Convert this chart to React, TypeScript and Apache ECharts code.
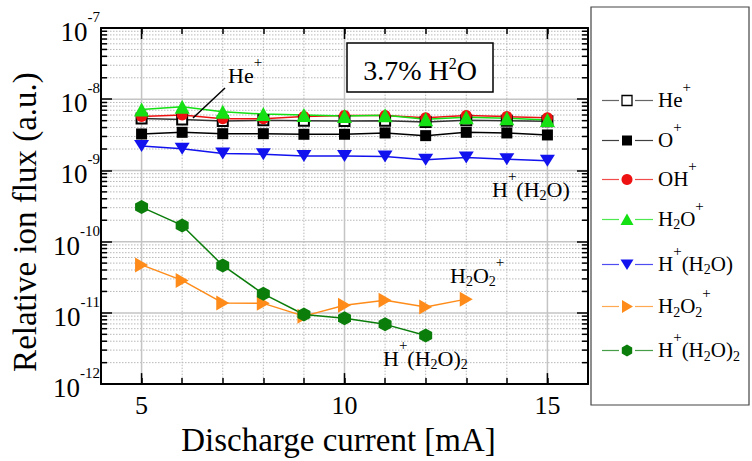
import React, { useEffect, useRef } from 'react';
import * as echarts from 'echarts';

// Discharge current (mA) for the full series
const currents = [5, 6, 7, 8, 9, 10, 11, 12, 13, 14, 15];
const heIon = [5.35e-9, 5.2e-9, 4.95e-9, 5.05e-9, 5.0e-9, 4.95e-9, 5.0e-9, 4.8e-9, 5.05e-9, 5.0e-9, 4.9e-9];
const oIon = [3.25e-9, 3.43e-9, 3.28e-9, 3.28e-9, 3.22e-9, 3.22e-9, 3.36e-9, 3.08e-9, 3.43e-9, 3.36e-9, 3.15e-9];
const ohIon = [5.7e-9, 6.0e-9, 5.3e-9, 5.3e-9, 5.7e-9, 5.9e-9, 5.9e-9, 5.5e-9, 5.9e-9, 5.7e-9, 5.5e-9];
const h2oIon = [7.19e-9, 7.83e-9, 6.68e-9, 6.19e-9, 6.0e-9, 5.81e-9, 5.94e-9, 5.24e-9, 5.58e-9, 5.41e-9, 5.12e-9];
const hH2oIon = [2.2e-9, 2.02e-9, 1.73e-9, 1.69e-9, 1.6e-9, 1.6e-9, 1.57e-9, 1.41e-9, 1.52e-9, 1.44e-9, 1.37e-9];
// Shorter series
const h2o2Currents = [5, 6, 7, 8, 9, 10, 11, 12, 13];
const h2o2Ion = [4.72e-11, 2.86e-11, 1.38e-11, 1.36e-11, 9.0e-12, 1.28e-11, 1.5e-11, 1.21e-11, 1.56e-11];
const hH2o2Currents = [5, 6, 7, 8, 9, 10, 11, 12];
const hH2o2Ion = [3.06e-10, 1.69e-10, 4.64e-11, 1.85e-11, 9.5e-12, 8.4e-12, 6.9e-12, 4.8e-12];

// Axis ranges, labelled ticks and grid positions
const xMin = 4;
const xMax = 16;
const yMin = 1e-12;
const yMax = 1e-7;
const xLabelValues = [5, 10, 15];
const xMajorGrid = [5, 10, 15];
const xMinorGrid = [6, 7, 8, 9, 11, 12, 13, 14];
const yMajorGrid = [1e-11, 1e-10, 1e-9, 1e-8];
const yDecades = [1e-12, 1e-11, 1e-10, 1e-9, 1e-8];
const yMinorSteps = [2, 3, 4, 5, 6, 7, 8, 9];

// Series names and their rich-text forms (sub/superscripts)
const names = ['He+', 'O+', 'OH+', 'H2O+', 'H+(H2O)', 'H2O2+', 'H+(H2O)2'];
const richNames: Record<string, string> = {
  'He+': '{b|He}{sp|+}',
  'O+': '{b|O}{sp|+}',
  'OH+': '{b|OH}{sp|+}',
  'H2O+': '{b|H}{sb|2}{b|O}{sp|+}',
  'H+(H2O)': '{b|H}{sp|+}{b|(H}{sb|2}{b|O)}',
  'H2O2+': '{b|H}{sb|2}{b|O}{sb|2}{sp|+}',
  'H+(H2O)2': '{b|H}{sp|+}{b|(H}{sb|2}{b|O)}{sb|2}',
};

// Per-series look: line colour, marker colour, marker shape
const lineColors = ['#333333', '#000000', '#ee1111', '#14e014', '#1212ee', '#ff8c1a', '#0b7d0b'];
const markerColors = ['#000000', '#000000', '#ee1111', '#14e014', '#1212ee', '#ff8c1a', '#0b7d0b'];
const markerKinds = ['emptySquare', 'square', 'circle', 'up', 'down', 'right', 'hex'];

// Vertical centre of each legend row
const legendRowY = [100, 140, 179, 218.5, 263.5, 306, 350];

const FONT = '"Liberation Serif", "Times New Roman", serif';

const richFor = (size: number) => ({
  b: { fontFamily: FONT, fontSize: size, lineHeight: size, fill: '#000', verticalAlign: 'middle' },
  sp: { fontFamily: FONT, fontSize: 15, lineHeight: 15, fill: '#000', verticalAlign: 'middle', padding: [0, 0, 26, 0] },
  sb: { fontFamily: FONT, fontSize: 14, lineHeight: 14, fill: '#000', verticalAlign: 'middle', padding: [21, 0, 9, 0] },
});

const majorGridStyle = { stroke: '#c4c4c4', lineWidth: 1.5 };
const minorGridStyle = { stroke: '#b8b8b8', lineWidth: 1, lineDash: [1.5, 1.5] };
const tickStyle = { stroke: '#000', lineWidth: 1.5 };

const pairs = (xs: number[], ys: number[]) => xs.map((x, i) => [x, ys[i]]);

const seriesSymbol: Record<string, { symbol: string; size: any }> = {
  emptySquare: { symbol: 'emptyRect', size: 10 },
  square: { symbol: 'rect', size: 11 },
  circle: { symbol: 'circle', size: 11 },
  up: { symbol: 'triangle', size: [15, 14] },
  down: { symbol: 'path://M0,0L10,0L5,8.5Z', size: [15, 12] },
  right: { symbol: 'path://M0,0L8.5,5L0,10Z', size: [13, 15] },
  hex: { symbol: 'path://M0,-10L8.66,-5L8.66,5L0,10L-8.66,5L-8.66,-5Z', size: [13, 14] },
};

// Legend marker drawn as a graphic element centred on (cx, cy)
const legendMarker = (kind: string, cx: number, cy: number, color: string): any => {
  const fill = { fill: color };
  switch (kind) {
    case 'emptySquare':
      return { type: 'rect', shape: { x: cx - 5, y: cy - 5, width: 10, height: 10 }, style: { fill: '#fff', stroke: color, lineWidth: 1.3 } };
    case 'square':
      return { type: 'rect', shape: { x: cx - 5, y: cy - 5, width: 10, height: 10 }, style: fill };
    case 'circle':
      return { type: 'circle', shape: { cx, cy, r: 5.5 }, style: fill };
    case 'up':
      return { type: 'polygon', shape: { points: [[cx, cy - 6], [cx + 6.5, cy + 5.5], [cx - 6.5, cy + 5.5]] }, style: fill };
    case 'down':
      return { type: 'polygon', shape: { points: [[cx - 6.5, cy - 5], [cx + 6.5, cy - 5], [cx, cy + 5.5]] }, style: fill };
    case 'right':
      return { type: 'polygon', shape: { points: [[cx - 5, cy - 6.5], [cx + 6, cy], [cx - 5, cy + 6.5]] }, style: fill };
    default:
      return {
        type: 'polygon',
        shape: { points: [[cx, cy - 6], [cx + 5.2, cy - 3], [cx + 5.2, cy + 3], [cx, cy + 6], [cx - 5.2, cy + 3], [cx - 5.2, cy - 3]] },
        style: fill,
      };
  }
};

export default function App() {
  const ref = useRef<HTMLDivElement>(null);

  useEffect(() => {
    if (!ref.current) return;
    const chart = echarts.init(ref.current, undefined, { renderer: 'svg' });

    const yGridData: number[][] = [
      ...yMajorGrid.map((v) => [xMin, v, 1]),
      ...yDecades.flatMap((d) => yMinorSteps.map((k) => [xMin, k * d, 0])),
    ];
    const xGridData: number[][] = [
      ...xMajorGrid.map((x) => [x, yMin, 1]),
      ...xMinorGrid.map((x) => [x, yMin, 0]),
    ];

    const yGridRender = (_p: any, api: any) => {
      const v = api.value(1);
      const major = api.value(2) === 1;
      const l = api.coord([xMin, v]);
      const r = api.coord([xMax, v]);
      const children: any[] = [
        { type: 'line', shape: { x1: l[0], y1: l[1], x2: r[0], y2: r[1] }, style: major ? majorGridStyle : minorGridStyle },
      ];
      if (!major) {
        children.push({ type: 'line', shape: { x1: l[0], y1: l[1], x2: l[0] + 6, y2: l[1] }, style: tickStyle });
        children.push({ type: 'line', shape: { x1: r[0] - 6, y1: r[1], x2: r[0], y2: r[1] }, style: tickStyle });
      }
      return { type: 'group', children };
    };

    const xGridRender = (_p: any, api: any) => {
      const x = api.value(0);
      const major = api.value(2) === 1;
      const b = api.coord([x, yMin]);
      const t = api.coord([x, yMax]);
      const children: any[] = [
        { type: 'line', shape: { x1: b[0], y1: b[1], x2: t[0], y2: t[1] }, style: major ? majorGridStyle : minorGridStyle },
      ];
      if (major) {
        children.push({ type: 'line', shape: { x1: b[0], y1: b[1], x2: b[0], y2: b[1] - 11 }, style: tickStyle });
        children.push({ type: 'line', shape: { x1: t[0], y1: t[1], x2: t[0], y2: t[1] + 11 }, style: tickStyle });
      }
      return { type: 'group', children };
    };

    const seriesData = [
      pairs(currents, heIon),
      pairs(currents, oIon),
      pairs(currents, ohIon),
      pairs(currents, h2oIon),
      pairs(currents, hH2oIon),
      pairs(h2o2Currents, h2o2Ion),
      pairs(hH2o2Currents, hH2o2Ion),
    ];

    const dataSeries = names.map((name, i) => {
      const sym = seriesSymbol[markerKinds[i]];
      const empty = markerKinds[i] === 'emptySquare';
      return {
        name,
        type: 'line',
        data: seriesData[i],
        symbol: sym.symbol,
        symbolSize: sym.size,
        z: 3,
        lineStyle: { color: lineColors[i], width: 1.5 },
        itemStyle: empty
          ? { color: markerColors[i], borderColor: markerColors[i], borderWidth: 1.5 }
          : { color: markerColors[i], borderWidth: 0 },
      };
    });

    const xAxisBase = {
      type: 'value',
      min: xMin,
      max: xMax,
      interval: 1,
      z: 5,
      axisLine: { show: true, onZero: false, lineStyle: { color: '#000', width: 2 } },
      axisTick: { show: true, inside: true, length: 6, lineStyle: { color: '#000', width: 1.5 } },
      splitLine: { show: false },
    };
    const yAxisBase = {
      type: 'log',
      logBase: 10,
      min: yMin,
      max: yMax,
      z: 5,
      axisLine: { show: true, onZero: false, lineStyle: { color: '#000', width: 2 } },
      axisTick: { show: true, inside: true, length: 11, lineStyle: { color: '#000', width: 1.5 } },
      splitLine: { show: false },
      minorTick: { show: false },
    };

    const annotRich = richFor(22);
    const legendRich = richFor(21);

    const textEl = (text: string, x: number, y: number, rich: any) => ({
      type: 'text',
      x,
      y,
      z: 11,
      style: { text, align: 'left', verticalAlign: 'middle', textAlign: 'left', textVerticalAlign: 'middle', rich },
    });

    // Legend rows: line with a gap around the marker, marker, label
    const legendEls: any[] = names.flatMap((n, i) => {
      const y = Math.round(legendRowY[i]) + 0.5;
      const lineStyle = { stroke: lineColors[i], lineWidth: 1.2, opacity: 0.75 };
      return [
        { type: 'line', shape: { x1: 602, y1: y, x2: 619, y2: y }, style: lineStyle, z: 11 },
        { type: 'line', shape: { x1: 635, y1: y, x2: 653, y2: y }, style: lineStyle, z: 11 },
        { ...legendMarker(markerKinds[i], 627, y, markerColors[i]), z: 11 },
        textEl(richNames[n], 658, legendRowY[i], legendRich),
      ];
    });

    chart.setOption({
      animation: false,
      backgroundColor: '#fff',
      grid: { left: 96, top: 28, width: 492, height: 363, containLabel: false },
      xAxis: [
        {
          ...xAxisBase,
          position: 'bottom',
          name: 'Discharge current [mA]',
          nameLocation: 'middle',
          nameGap: 32,
          nameTextStyle: { fontFamily: FONT, fontSize: 33, color: '#000', padding: [0, 12, 0, 0] },
          axisLabel: {
            show: true,
            margin: 8,
            fontFamily: FONT,
            fontSize: 26,
            color: '#000',
            formatter: (v: number) => (xLabelValues.includes(v) ? String(v) : ''),
          },
        },
        { ...xAxisBase, position: 'top', axisLabel: { show: false } },
      ],
      yAxis: [
        {
          ...yAxisBase,
          position: 'left',
          name: 'Relative ion flux (a.u.)',
          nameLocation: 'middle',
          nameGap: 60,
          nameTextStyle: { fontFamily: FONT, fontSize: 33, color: '#000', padding: [0, 32, 0, 0] },
          axisLabel: {
            show: true,
            margin: 1,
            formatter: (v: number) => `{b|10}{sp|${Math.round(Math.log10(v))}}`,
            rich: {
              b: { fontFamily: FONT, fontSize: 27, lineHeight: 27, color: '#000', verticalAlign: 'middle', padding: [8, 0, 0, 0] },
              sp: { fontFamily: FONT, fontSize: 15, lineHeight: 15, color: '#000', verticalAlign: 'middle', padding: [0, 0, 22, 0] },
            },
          },
        },
        { ...yAxisBase, position: 'right', axisLabel: { show: false } },
      ],
      graphic: [
        {
          type: 'rect',
          shape: { x: 591, y: 7, width: 158, height: 398 },
          style: { fill: 'transparent', stroke: '#444', lineWidth: 1.2 },
          z: 0,
        },
        ...legendEls,
        {
          type: 'rect',
          shape: { x: 347, y: 43, width: 146, height: 49 },
          style: { fill: '#fff', stroke: '#000', lineWidth: 1.5 },
          z: 10,
        },
        {
          type: 'text',
          x: 420,
          y: 70,
          z: 11,
          style: {
            text: '{b|3.7% H}{sp|2}{b|O}',
            align: 'center',
            verticalAlign: 'middle',
            textAlign: 'center',
            textVerticalAlign: 'middle',
            rich: {
              b: { fontFamily: FONT, fontSize: 28, lineHeight: 28, fill: '#000', verticalAlign: 'middle' },
              sp: { fontFamily: FONT, fontSize: 16, lineHeight: 16, fill: '#000', verticalAlign: 'middle', padding: [0, 0, 14, 0] },
            },
          },
        },
        {
          type: 'line',
          shape: { x1: 225, y1: 88, x2: 193, y2: 118 },
          style: { stroke: '#000', lineWidth: 1.5 },
          z: 10,
        },
        textEl(richNames['He+'], 228, 75, annotRich),
        textEl(richNames['H+(H2O)'], 492, 189, annotRich),
        textEl(richNames['H2O2+'], 450, 275, annotRich),
        textEl(richNames['H+(H2O)2'], 383, 358, annotRich),
      ],
      series: [
        {
          name: 'yGrid',
          type: 'custom',
          silent: true,
          z: 1,
          encode: { x: 0, y: 1 },
          data: yGridData,
          renderItem: yGridRender,
        },
        {
          name: 'xGrid',
          type: 'custom',
          silent: true,
          z: 1,
          encode: { x: 0, y: 1 },
          data: xGridData,
          renderItem: xGridRender,
        },
        ...dataSeries,
      ],
    });

    return () => chart.dispose();
  }, []);

  return (
    <div
      ref={ref}
      style={{ position: 'fixed', left: 0, top: 0, width: 752, height: 461, background: '#fff' }}
    />
  );
}
